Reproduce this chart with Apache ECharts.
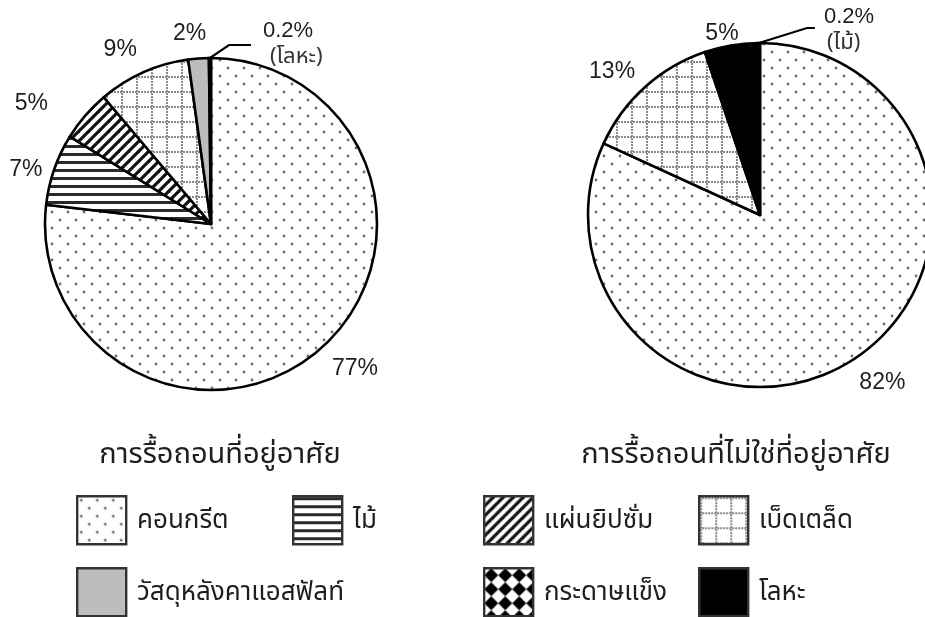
<!DOCTYPE html>
<html>
<head>
<meta charset="utf-8">
<script src="https://cdn.jsdelivr.net/npm/echarts@6/dist/echarts.min.js"></script>
<style>
  html, body { margin: 0; padding: 0; background: #fff; }
  #chart { width: 925px; height: 617px; }
</style>
</head>
<body>
<div id="chart"></div>
<script>
// Residential demolition, clockwise from 12 o'clock (percent)
const residentialNames = ['คอนกรีต', 'ไม้', 'แผ่นยิปซั่ม', 'เบ็ดเตล็ด', 'วัสดุหลังคาแอสฟัลท์', 'โลหะ'];
const residentialValues = [77, 7, 5, 9, 2, 0.2];

// Non-residential demolition, clockwise from 12 o'clock (percent)
const nonResidentialNames = ['คอนกรีต', 'เบ็ดเตล็ด', 'โลหะ', 'ไม้'];
const nonResidentialValues = [82, 13, 5, 0.2];

const titles = ['การรื้อถอนที่อยู่อาศัย', 'การรื้อถอนที่ไม่ใช่ที่อยู่อาศัย'];
const legendNames = ['คอนกรีต', 'ไม้', 'วัสดุหลังคาแอสฟัลท์', 'แผ่นยิปซั่ม', 'เบ็ดเตล็ด', 'กระดาษแข็ง', 'โลหะ'];

const THAI = '"Noto Sans Thai", "Noto Sans Thai UI", "Loma", "Garuda", "Noto Sans", sans-serif';
const LATIN = '"Liberation Sans", Arimo, Arial, sans-serif';

// ---- fill patterns -------------------------------------------------------
function tile(w, h, draw) {
  const c = document.createElement('canvas');
  c.width = w; c.height = h;
  const ctx = c.getContext('2d');
  ctx.fillStyle = '#fff';
  ctx.fillRect(0, 0, w, h);
  draw(ctx, w, h);
  return { image: c, repeat: 'repeat' };
}

const fills = {
  'คอนกรีต': tile(16, 16, (ctx) => {
    ctx.fillStyle = '#6e6e6e';
    [[4, 4], [12, 12]].forEach(([x, y]) => {
      ctx.beginPath(); ctx.arc(x, y, 1.4, 0, Math.PI * 2); ctx.fill();
    });
  }),
  'ไม้': tile(8, 8, (ctx) => {
    ctx.fillStyle = '#2a2a2a';
    ctx.fillRect(0, 1, 8, 3);
  }),
  'แผ่นยิปซั่ม': tile(10, 10, (ctx) => {
    ctx.strokeStyle = '#111';
    ctx.lineWidth = 3.2;
    for (let k = -10; k <= 10; k += 10) {
      ctx.beginPath(); ctx.moveTo(-2 + k, 12); ctx.lineTo(12 + k, -2); ctx.stroke();
    }
  }),
  'เบ็ดเตล็ด': tile(15, 15, (ctx) => {
    ctx.fillStyle = '#8a8a8a';
    for (let i = 0; i < 15; i += 3) {
      ctx.fillRect(1, i, 2, 2);
      ctx.fillRect(i, 1, 2, 2);
    }
  }),
  'วัสดุหลังคาแอสฟัลท์': '#bdbdbd',
  'โลหะ': '#000',
  'กระดาษแข็ง': tile(14, 14, (ctx) => {
    ctx.fillStyle = '#000';
    ctx.beginPath();
    ctx.moveTo(7, 0); ctx.lineTo(14, 7); ctx.lineTo(7, 14); ctx.lineTo(0, 7);
    ctx.closePath(); ctx.fill();
  })
};

// ---- pie series ----------------------------------------------------------
const pieLayout = [
  { center: [211, 224], radius: 166, note: '(โลหะ)', lead: [19, -13, 22], gap: [12, 0], notePad: 7 },
  { center: [760, 215], radius: 172, note: '(ไม้)', lead: [48, -15, 8], gap: [9, 3], notePad: 3 }
];
// percentage label placement: distance beyond the rim, then a small nudge
const labelGap = [
  [40, 30, 50, 32, 26, 0],
  [36, 34, 18, 0]
];
const labelNudge = [
  [[7, -9], [0, 10], [-16, 21], [-10, 6], [-7, 1], [0, 0]],
  [[10, -7], [-10, 10], [-6, 6], [0, 0]]
];

function buildSeries(idx, names, values) {
  const cfg = pieLayout[idx];
  const last = values.length - 1;
  return {
    type: 'pie',
    center: cfg.center,
    radius: cfg.radius,
    startAngle: 90,
    clockwise: true,
    avoidLabelOverlap: false,
    silent: true,
    itemStyle: { borderColor: '#000', borderWidth: 2.6 },
    label: {
      show: true,
      position: 'outside',
      formatter: (p) => p.value + '%',
      fontFamily: LATIN,
      fontSize: 23,
      color: '#1e1e1e'
    },
    labelLine: { show: true, length: 10, length2: 0, lineStyle: { opacity: 0 } },
    labelLayout: (p) => {
      const pts = p.labelLinePoints;
      if (!pts) return {};
      const p0 = pts[0];
      if (p.dataIndex === last) {
        const [dx, dy, run] = cfg.lead;
        const p1 = [p0[0] + dx, p0[1] + dy];
        const p2 = [p1[0] + run, p1[1]];
        return {
          x: p2[0] + cfg.gap[0], y: p2[1] + cfg.gap[1],
          align: 'left', verticalAlign: 'middle',
          labelLinePoints: [p0, p1, p2]
        };
      }
      const ux = pts[1][0] - p0[0], uy = pts[1][1] - p0[1];
      const len = Math.hypot(ux, uy) || 1;
      const g = labelGap[idx][p.dataIndex];
      const n = labelNudge[idx][p.dataIndex];
      return {
        x: p0[0] + ux / len * g + n[0], y: p0[1] + uy / len * g + n[1],
        align: 'center', verticalAlign: 'middle'
      };
    },
    data: values.map((v, i) => {
      const item = { name: names[i], value: v, itemStyle: { color: fills[names[i]] } };
      if (i === last) {
        item.label = {
          formatter: (p) => '{a|' + p.value + '%}\n{b|' + cfg.note + '}',
          rich: {
            a: { fontFamily: LATIN, fontSize: 22, color: '#1e1e1e', lineHeight: 28 },
            b: { fontFamily: THAI, fontSize: 22, color: '#333', lineHeight: 28, padding: [0, 0, 0, cfg.notePad] }
          }
        };
        item.labelLine = { lineStyle: { opacity: 1, color: '#000', width: 2.2 } };
      }
      return item;
    })
  };
}

// ---- legend and titles ---------------------------------------------------
const legendSlots = [[76, 495], [292, 495], [76, 567], [483, 495], [698, 495], [483, 567], [698, 567]];

const graphics = [];
legendNames.forEach((name, i) => {
  const [x, y] = legendSlots[i];
  graphics.push({
    type: 'rect', left: x, top: y,
    shape: { width: 49, height: 48 },
    style: { fill: fills[name], stroke: '#333', lineWidth: 2.4 },
    silent: true
  });
  graphics.push({
    type: 'text', x: x + 61, y: y + 28,
    style: { text: name, font: '26px ' + THAI, fill: '#1e1e1e', verticalAlign: 'middle' },
    silent: true
  });
});
[[220, 457], [736, 457]].forEach(([cx, cy], i) => {
  graphics.push({
    type: 'text', x: cx, y: cy,
    style: { text: titles[i], font: '29px ' + THAI, fill: '#1e1e1e', align: 'center', verticalAlign: 'middle' },
    silent: true
  });
});

const chart = echarts.init(document.getElementById('chart'), null, { renderer: 'canvas' });
chart.setOption({
  animation: false,
  backgroundColor: '#fff',
  series: [
    buildSeries(0, residentialNames, residentialValues),
    buildSeries(1, nonResidentialNames, nonResidentialValues)
  ],
  graphic: graphics
});
</script>
</body>
</html>
